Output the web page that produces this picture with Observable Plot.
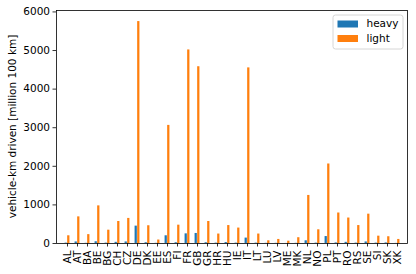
<!DOCTYPE html>
<html>
<head>
<meta charset="utf-8">
<script src="https://cdn.jsdelivr.net/npm/d3@7"></script>
<script src="https://cdn.jsdelivr.net/npm/@observablehq/plot@0.6"></script>
<style>
html, body { margin: 0; padding: 0; background: #fff; }
svg { font-family: "DejaVu Sans", sans-serif; }
</style>
</head>
<body>
<div id="chart"></div>
<script>
const countries = ["AL","AT","BA","BE","BG","CH","CZ","DE","DK","EE","ES","FI","FR","GB","GR","HR","HU","IE","IT","LT","LU","LV","ME","MK","NL","NO","PL","PT","RO","RS","SE","SI","SK","XK"];
const heavy = [10,40,5,45,10,30,40,450,20,5,200,20,250,260,20,10,25,10,140,10,5,5,2,5,70,10,180,15,30,10,40,10,15,3];
const light = [200,690,230,975,345,570,650,5750,460,90,3060,475,5015,4580,570,245,465,400,4550,245,70,105,60,150,1245,355,2060,790,660,465,760,190,175,105];
const seriesNames = ["heavy","light"];
const colors = ["#1f77b4","#ff7f0e"];
const yTicks = [0,1000,2000,3000,4000,5000,6000];

const W = 416, H = 274;
const mL = 56, mR = 9, mT = 10, mB = 31;
const bw = (W - mL - mR) / countries.length;

const heavyData = countries.map((c, i) => ({country: c, value: heavy[i]}));
const lightData = countries.map((c, i) => ({country: c, value: light[i]}));

const plot = Plot.plot({
  width: W, height: H,
  marginLeft: mL, marginRight: mR, marginTop: mT, marginBottom: mB,
  style: {fontFamily: "DejaVu Sans, sans-serif", fontSize: "10.5px", color: "#000", background: "#fff"},
  x: {type: "band", domain: countries, padding: 0, label: null},
  y: {domain: [0, 6037], label: null},
  marks: [
    Plot.barY(heavyData, {x: "country", y: "value", fill: colors[0], insetLeft: bw * 0.25, insetRight: bw * 0.5}),
    Plot.barY(lightData, {x: "country", y: "value", fill: colors[1], insetLeft: bw * 0.5, insetRight: bw * 0.25}),
    Plot.axisY({ticks: yTicks, tickSize: 3.5, tickPadding: 3, tickFormat: d => String(d), label: null, stroke: "#000", strokeWidth: 0.8, fontSize: 10.5}),
    Plot.axisX({tickSize: 3.5, tickFormat: null, label: null, stroke: "#000", strokeWidth: 0.8}),
    Plot.text(countries, {x: d => d, frameAnchor: "bottom", dy: 7, rotate: -90, textAnchor: "end", lineAnchor: "middle", fontSize: 10.5, fill: "#000", clip: false}),
    Plot.frame({stroke: "#000", strokeWidth: 0.8})
  ]
});
document.getElementById("chart").appendChild(plot);

const svg = d3.select(plot);
// y-axis title
svg.append("text")
  .attr("transform", `translate(13,${mT + (H - mT - mB) / 2}) rotate(-90)`)
  .attr("text-anchor", "middle")
  .attr("dominant-baseline", "middle")
  .attr("font-size", 10.5)
  .attr("fill", "#000")
  .text("vehicle-km driven [million 100 km]");

// legend
const lg = svg.append("g");
lg.append("rect")
  .attr("x", 333).attr("y", 15).attr("width", 70).attr("height", 34)
  .attr("rx", 2.5).attr("fill", "#fff").attr("fill-opacity", 0.8)
  .attr("stroke", "#ccc").attr("stroke-width", 0.8);
seriesNames.forEach((name, i) => {
  const cy = 24 + i * 14.5;
  lg.append("rect").attr("x", 337.5).attr("y", cy - 3.5).attr("width", 20.5).attr("height", 7).attr("fill", colors[i]);
  lg.append("text").attr("x", 366.5).attr("y", cy).attr("text-anchor", "start").attr("dominant-baseline", "middle")
    .attr("font-size", 10.5).attr("fill", "#000").text(name);
});
</script>
</body>
</html>
